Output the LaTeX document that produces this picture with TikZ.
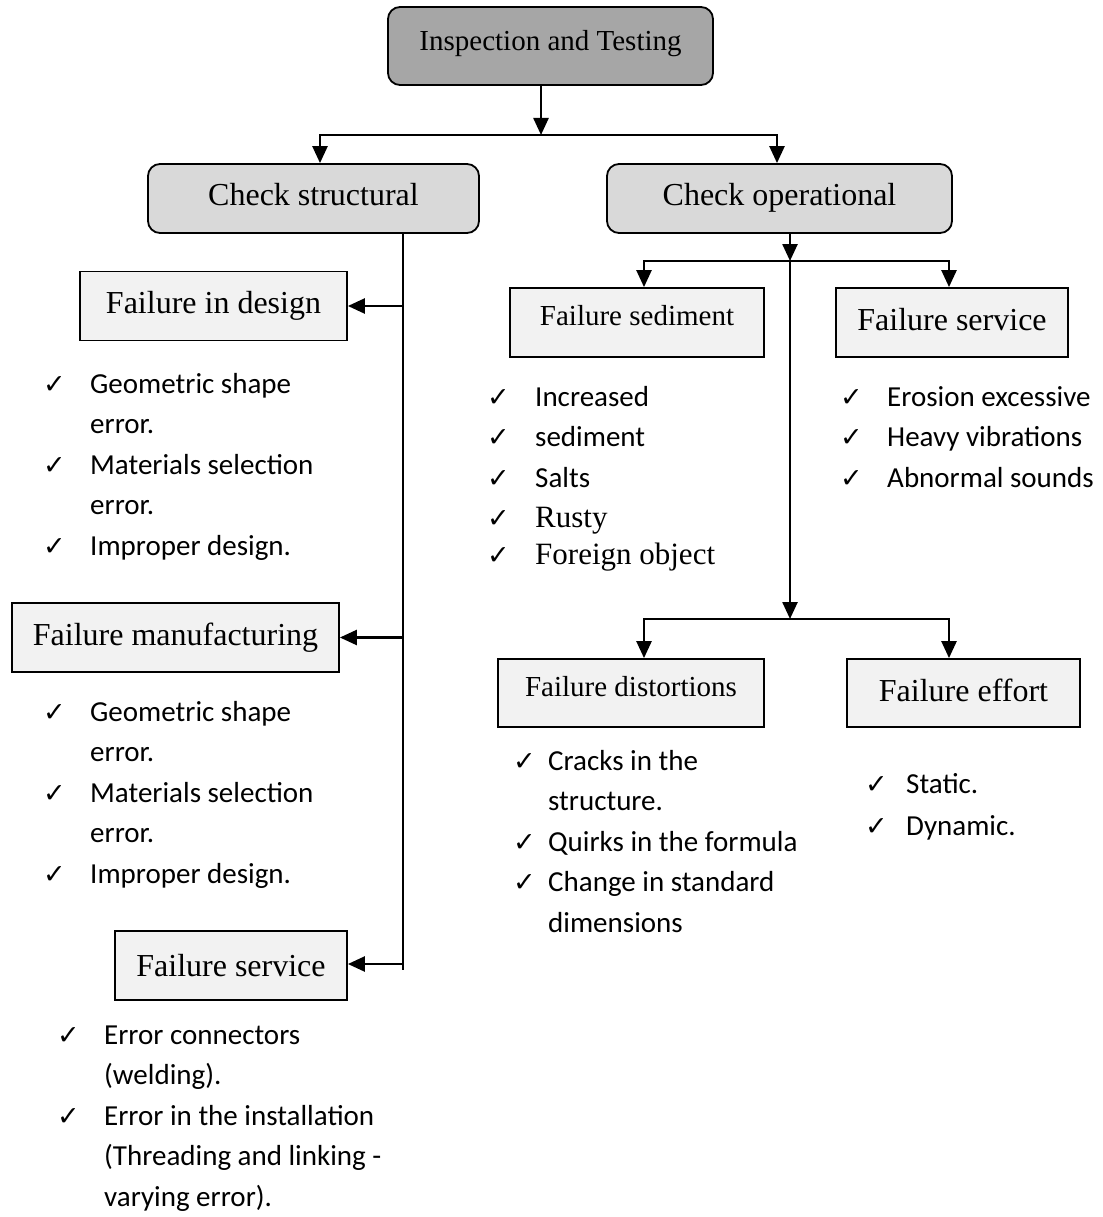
\documentclass[tikz,border=0pt]{standalone}
\usepackage{fontspec}
\setmainfont{Liberation Serif}
\newfontfamily\bodyfont{Carlito}
\newfontfamily\symfont{DejaVu Sans}
\usetikzlibrary{arrows.meta,calc}
\definecolor{topfill}{HTML}{A6A6A6}
\definecolor{checkfill}{HTML}{D9D9D9}
\definecolor{failfill}{HTML}{F2F2F2}
\newcommand{\chk}{{\symfont\fontsize{27}{27}\selectfont ✓}}
\newcommand{\tms}{\rmfamily\fontsize{31}{31}\selectfont}
\tikzset{
    % --- boxes ---
    topbox/.style={draw, line width=1.8pt, rounded corners=12pt, fill=topfill,
                   inner sep=0pt, font=\fontsize{29}{29}\selectfont, text depth=12pt},
    checkbox/.style={draw, line width=1.8pt, rounded corners=12pt, fill=checkfill,
                   inner sep=0pt, font=\fontsize{32}{32}\selectfont,
                   text height=22pt, text depth=8pt},
    failbox/.style={draw, line width=1.8pt, fill=failfill, inner sep=0pt,
                   font=\fontsize{32}{32}\selectfont},
    smallfail/.style={failbox, font=\fontsize{29}{29}\selectfont, text depth=14pt},
    % --- lists and connectors ---
    blist/.style={anchor=north west, inner sep=0pt,
                  font=\bodyfont\fontsize{29}{40.5}\selectfont},
    conn/.style={line width=2.5pt, -{Triangle[length=17pt,width=15pt]}},
    trunk/.style={line width=2.5pt}
}
\begin{document}
\begin{tikzpicture}[x=1pt,y=-1pt]
    \useasboundingbox (0,0) rectangle (1102,1217);

    \node[topbox, minimum width=325pt, minimum height=78pt] (insp) at (550.5,46) {Inspection and Testing};

    \node[checkbox, minimum width=331pt, minimum height=69pt] (cs) at (313.5,198.5) {Check structural};
    \node[checkbox, minimum width=345pt, minimum height=69pt] (co) at (779.5,198.5) {Check operational};

    % structural side
    \node[failbox, minimum width=267pt, minimum height=69pt] (fdes) at (213.5,306) {Failure in design};
    \node[failbox, minimum width=327pt, minimum height=69pt] (fman) at (175.5,637.5) {Failure manufacturing};
    \node[failbox, minimum width=232pt, minimum height=69pt] (fsvl) at (231,965.5) {Failure service};

    % operational side
    \node[smallfail, minimum width=254pt, minimum height=69pt] (fsed) at (637,322.5) {Failure sediment};
    \node[failbox, minimum width=232pt, minimum height=69pt, text depth=6pt] (fsvr) at (952,322.5) {Failure service};
    \node[smallfail, minimum width=266pt, minimum height=68pt] (fdis) at (631,693) {Failure distortions};
    \node[failbox, minimum width=233pt, minimum height=68pt, text depth=6pt] (feff) at (963.5,693) {Failure effort};

    \coordinate (jtop) at (541,135);
    \coordinate (strunk) at (403,970);
    \coordinate (jop1) at (790,261);
    \coordinate (jop2) at (790,619);

    \draw[conn] (insp.south -| jtop) -- (jtop);
    \draw[conn] (jtop) -| ([xshift=6.5pt]cs.north);
    \draw[conn] (jtop) -| ([xshift=-2.5pt]co.north);

    \draw[trunk] (cs.south -| strunk) -- (strunk);
    \draw[conn] (fdes.east -| strunk) -- (fdes.east);
    \draw[conn] (fman.east -| strunk) -- (fman.east);
    \draw[conn] ([yshift=1.5pt]fsvl.east -| strunk) -- ([yshift=1.5pt]fsvl.east);

    \draw[conn] (co.south -| jop1) -- (jop1);
    \draw[conn] (jop1) -- (jop2);
    \draw[conn] (jop1) -| ([xshift=7pt]fsed.north);
    \draw[conn] (jop1) -| ([xshift=-3pt]fsvr.north);
    \draw[conn] (jop2) -| ([xshift=13pt]fdis.north);
    \draw[conn] (jop2) -| ([xshift=-14.5pt]feff.north);

    \node[blist] (ldes) at (43,364.6) {\begin{tabular}{@{}p{47pt}@{}l@{}}
        \chk & Geometric shape\\ & error.\\ \chk & Materials selection\\ & error.\\ \chk & Improper design.
    \end{tabular}};
    \node[blist] (lman) at (43,692.6) {\begin{tabular}{@{}p{47pt}@{}l@{}}
        \chk & Geometric shape\\ & error.\\ \chk & Materials selection\\ & error.\\ \chk & Improper design.
    \end{tabular}};
    \node[blist] (lsvl) at (57,1015.6) {\begin{tabular}{@{}p{47pt}@{}l@{}}
        \chk & Error connectors\\ & (welding).\\ \chk & Error in the installation\\ & (Threading and linking -\\ & varying error).
    \end{tabular}};
    \node[blist] (lsed) at (487,377.6) {\begin{tabular}{@{}p{48pt}@{}l@{}}
        \chk & Increased\\ \chk & sediment\\ \chk & Salts\\ \chk & \tms Rusty\\[-4pt] \chk & \tms Foreign object
    \end{tabular}};
    \node[blist] (lsvr) at (840,377.6) {\begin{tabular}{@{}p{47pt}@{}l@{}}
        \chk & Erosion excessive\\ \chk & Heavy vibrations\\ \chk & Abnormal sounds
    \end{tabular}};
    \node[blist] (ldis) at (513,741.6) {\begin{tabular}{@{}p{35pt}@{}l@{}}
        \chk & Cracks in the\\ & structure.\\ \chk & Quirks in the formula\\ \chk & Change in standard\\ & dimensions
    \end{tabular}};
    \node[blist] (leff) at (865,764.6) {\begin{tabular}{@{}p{41pt}@{}l@{}}
        \chk & Static.\\[1.5pt] \chk & Dynamic.
    \end{tabular}};
\end{tikzpicture}
\end{document}
